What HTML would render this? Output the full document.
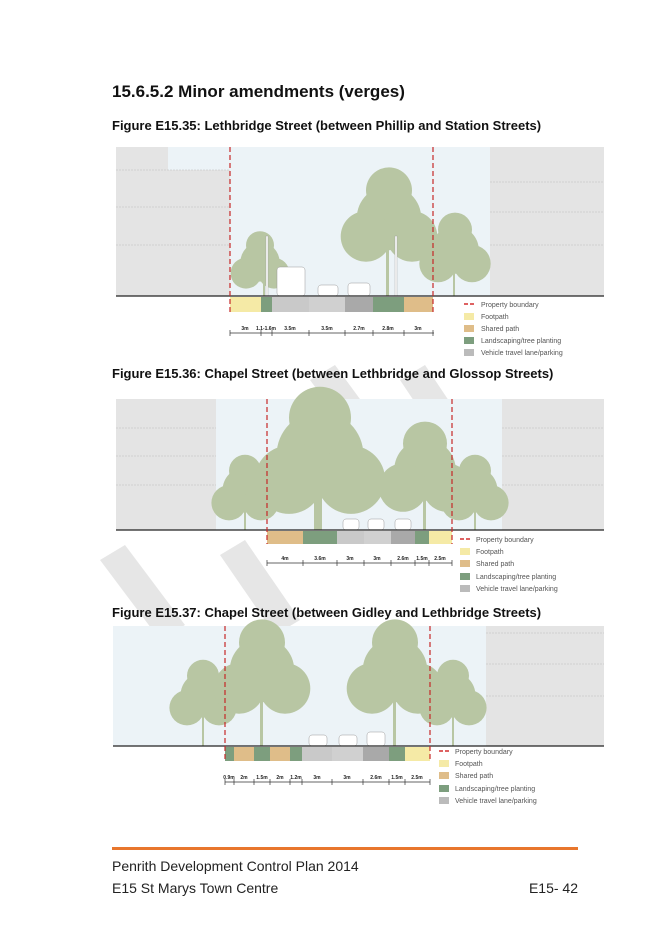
<!DOCTYPE html>
<html><head><meta charset="utf-8"><style>
body{margin:0;background:#fff}
svg text{font-family:"Liberation Sans",sans-serif}
</style></head><body>
<svg width="656" height="928" viewBox="0 0 656 928" xmlns="http://www.w3.org/2000/svg">
<defs>
<g id="tree"><circle cx="0" cy="0" r="14" fill="#b8c6a3"/><circle cx="-10" cy="8" r="11" fill="#b8c6a3"/><circle cx="10" cy="8" r="11" fill="#b8c6a3"/><circle cx="0" cy="-12" r="10" fill="#b8c6a3"/></g>
</defs>
<!-- watermark -->
<g fill="#e6e6e6">
<polygon points="100,560 125,545 185,625 160,640"/><polygon points="220,555 245,540 300,620 275,635"/>
<polygon points="310,380 335,365 390,440 365,455"/><polygon points="400,380 425,365 475,440 450,455"/>
</g>
<text x="112" y="97" font-size="17" font-weight="bold" fill="#111">15.6.5.2 Minor amendments (verges)</text>

<!-- FIGURE 1 -->
<text x="112" y="130" font-size="13" font-weight="bold" fill="#111">Figure E15.35: Lethbridge Street (between Phillip and Station Streets)</text>
<rect x="116" y="147" width="488" height="149" fill="#ecf3f7"/>
<path d="M116 147H168V170H230V296H116Z" fill="#e4e4e4"/>
<rect x="490" y="147" width="114" height="149" fill="#e4e4e4"/>
<g stroke="#bbb" stroke-dasharray="2,1" stroke-width="0.6"><line x1="116" y1="170" x2="230" y2="170"/><line x1="116" y1="207" x2="230" y2="207"/><line x1="116" y1="245" x2="230" y2="245"/><line x1="490" y1="182" x2="604" y2="182"/><line x1="490" y1="212" x2="604" y2="212"/><line x1="490" y1="245" x2="604" y2="245"/></g>
<g transform="translate(260,262) scale(1.4)"><use href="#tree"/></g><rect x="263" y="270" width="2" height="26" fill="#b8c6a3"/>
<g transform="translate(389,218) scale(2.3)"><use href="#tree"/></g><rect x="386" y="240" width="3" height="56" fill="#b8c6a3"/>
<g transform="translate(455,250) scale(1.7)"><use href="#tree"/></g><rect x="453" y="265" width="2" height="31" fill="#b8c6a3"/>
<rect x="266" y="236" width="2" height="60" fill="#fff" stroke="#999" stroke-width="0.4"/>
<rect x="395" y="236" width="2" height="60" fill="#fff" stroke="#999" stroke-width="0.4"/>
<rect x="277" y="267" width="28" height="29" rx="3" fill="#fff" stroke="#999" stroke-width="0.5"/>
<rect x="318" y="285" width="20" height="11" rx="3" fill="#fff" stroke="#999" stroke-width="0.5"/>
<rect x="348" y="283" width="22" height="13" rx="3" fill="#fff" stroke="#999" stroke-width="0.5"/>
<line x1="116" y1="296" x2="604" y2="296" stroke="#222" stroke-width="1.2"/>
<rect x="230" y="297" width="31" height="15" fill="#f5eaa6"/><rect x="261" y="297" width="11" height="15" fill="#7d9e7e"/>
<rect x="272" y="297" width="37" height="15" fill="#c9c9c9"/><rect x="309" y="297" width="36" height="15" fill="#d0d0d0"/>
<rect x="345" y="297" width="28" height="15" fill="#a9a9a9"/><rect x="373" y="297" width="31" height="15" fill="#7d9e7e"/><rect x="404" y="297" width="29" height="15" fill="#dfbd89"/>
<g stroke="#c62828" stroke-width="1.2" stroke-dasharray="5,3"><line x1="230" y1="147" x2="230" y2="312"/><line x1="433" y1="147" x2="433" y2="312"/></g>
<line x1="230" y1="333" x2="434" y2="333" stroke="#333" stroke-width="0.7"/>
<g stroke="#333" stroke-width="0.7"><line x1="230" y1="330" x2="230" y2="336"/><line x1="261" y1="330" x2="261" y2="336"/><line x1="272" y1="330" x2="272" y2="336"/><line x1="309" y1="330" x2="309" y2="336"/><line x1="345" y1="330" x2="345" y2="336"/><line x1="373" y1="330" x2="373" y2="336"/><line x1="404" y1="330" x2="404" y2="336"/><line x1="433" y1="330" x2="433" y2="336"/></g>
<g font-size="5" font-weight="bold" fill="#222" text-anchor="middle"><text x="245" y="330">3m</text><text x="266" y="330">1.1-1.6m</text><text x="290" y="330">3.5m</text><text x="327" y="330">3.5m</text><text x="359" y="330">2.7m</text><text x="388" y="330">2.8m</text><text x="418" y="330">3m</text></g>
<g font-size="7" fill="#555">
<line x1="464" y1="304" x2="476" y2="304" stroke="#d32f2f" stroke-width="1.5" stroke-dasharray="4,2"/><text x="481" y="307">Property boundary</text>
<rect x="464" y="313" width="10" height="7" fill="#f5eaa6"/><text x="481" y="319">Footpath</text>
<rect x="464" y="325" width="10" height="7" fill="#dfbd89"/><text x="481" y="331">Shared path</text>
<rect x="464" y="337" width="10" height="7" fill="#7d9e7e"/><text x="481" y="343">Landscaping/tree planting</text>
<rect x="464" y="349" width="10" height="7" fill="#bbb"/><text x="481" y="355">Vehicle travel lane/parking</text></g>

<!-- FIGURE 2 -->
<text x="112" y="378" font-size="13" font-weight="bold" fill="#111">Figure E15.36: Chapel Street (between Lethbridge and Glossop Streets)</text>
<rect x="116" y="399" width="488" height="131" fill="#ecf3f7"/>
<rect x="116" y="399" width="100" height="131" fill="#e4e4e4"/><rect x="502" y="399" width="102" height="131" fill="#e4e4e4"/>
<g stroke="#bbb" stroke-dasharray="2,1" stroke-width="0.6"><line x1="116" y1="428" x2="216" y2="428"/><line x1="116" y1="456" x2="216" y2="456"/><line x1="116" y1="485" x2="216" y2="485"/><line x1="502" y1="428" x2="604" y2="428"/><line x1="502" y1="456" x2="604" y2="456"/><line x1="502" y1="485" x2="604" y2="485"/></g>
<g transform="translate(245,490) scale(1.6)"><use href="#tree"/></g><rect x="244" y="500" width="2" height="30" fill="#b8c6a3"/>
<g transform="translate(320,455) scale(3.1)"><use href="#tree"/></g><rect x="314" y="470" width="8" height="60" fill="#b8c6a3"/>
<g transform="translate(425,470) scale(2.2)"><use href="#tree"/></g><rect x="423" y="490" width="3" height="40" fill="#b8c6a3"/>
<g transform="translate(475,490) scale(1.6)"><use href="#tree"/></g><rect x="474" y="500" width="2" height="30" fill="#b8c6a3"/>
<rect x="343" y="519" width="16" height="11" rx="3" fill="#fff" stroke="#999" stroke-width="0.5"/><rect x="368" y="519" width="16" height="11" rx="3" fill="#fff" stroke="#999" stroke-width="0.5"/><rect x="395" y="519" width="16" height="11" rx="3" fill="#fff" stroke="#999" stroke-width="0.5"/>
<line x1="116" y1="530" x2="604" y2="530" stroke="#222" stroke-width="1.2"/>
<rect x="267" y="531" width="36" height="13" fill="#dfbd89"/><rect x="303" y="531" width="34" height="13" fill="#7d9e7e"/><rect x="337" y="531" width="27" height="13" fill="#c9c9c9"/><rect x="364" y="531" width="27" height="13" fill="#d0d0d0"/><rect x="391" y="531" width="24" height="13" fill="#a9a9a9"/><rect x="415" y="531" width="14" height="13" fill="#7d9e7e"/><rect x="429" y="531" width="23" height="13" fill="#f5eaa6"/>
<g stroke="#c62828" stroke-width="1.2" stroke-dasharray="5,3"><line x1="267" y1="399" x2="267" y2="544"/><line x1="452" y1="399" x2="452" y2="544"/></g>
<line x1="267" y1="563" x2="452" y2="563" stroke="#333" stroke-width="0.7"/>
<g stroke="#333" stroke-width="0.7"><line x1="267" y1="560" x2="267" y2="566"/><line x1="303" y1="560" x2="303" y2="566"/><line x1="337" y1="560" x2="337" y2="566"/><line x1="364" y1="560" x2="364" y2="566"/><line x1="391" y1="560" x2="391" y2="566"/><line x1="415" y1="560" x2="415" y2="566"/><line x1="429" y1="560" x2="429" y2="566"/><line x1="452" y1="560" x2="452" y2="566"/></g>
<g font-size="5" font-weight="bold" fill="#222" text-anchor="middle"><text x="285" y="560">4m</text><text x="320" y="560">3.6m</text><text x="350" y="560">3m</text><text x="377" y="560">3m</text><text x="403" y="560">2.6m</text><text x="422" y="560">1.5m</text><text x="440" y="560">2.5m</text></g>
<g font-size="7" fill="#555">
<line x1="460" y1="539" x2="472" y2="539" stroke="#d32f2f" stroke-width="1.5" stroke-dasharray="4,2"/><text x="476" y="542">Property boundary</text>
<rect x="460" y="548" width="10" height="7" fill="#f5eaa6"/><text x="476" y="554">Footpath</text>
<rect x="460" y="560" width="10" height="7" fill="#dfbd89"/><text x="476" y="566">Shared path</text>
<rect x="460" y="573" width="10" height="7" fill="#7d9e7e"/><text x="476" y="579">Landscaping/tree planting</text>
<rect x="460" y="585" width="10" height="7" fill="#bbb"/><text x="476" y="591">Vehicle travel lane/parking</text></g>

<!-- FIGURE 3 -->
<text x="112" y="617" font-size="13" font-weight="bold" fill="#111">Figure E15.37: Chapel Street (between Gidley and Lethbridge Streets)</text>
<rect x="113" y="626" width="491" height="120" fill="#ecf3f7"/>
<rect x="486" y="626" width="118" height="120" fill="#e4e4e4"/>
<g stroke="#bbb" stroke-dasharray="2,1" stroke-width="0.6"><line x1="486" y1="633" x2="604" y2="633"/><line x1="486" y1="664" x2="604" y2="664"/><line x1="486" y1="696" x2="604" y2="696"/></g>
<g transform="translate(203,695) scale(1.6)"><use href="#tree"/></g><rect x="202" y="705" width="2" height="41" fill="#b8c6a3"/>
<g transform="translate(262,670) scale(2.3)"><use href="#tree"/></g><rect x="260" y="690" width="3" height="56" fill="#b8c6a3"/>
<g transform="translate(395,670) scale(2.3)"><use href="#tree"/></g><rect x="393" y="690" width="3" height="56" fill="#b8c6a3"/>
<g transform="translate(453,695) scale(1.6)"><use href="#tree"/></g><rect x="452" y="705" width="2" height="41" fill="#b8c6a3"/>
<rect x="309" y="735" width="18" height="11" rx="3" fill="#fff" stroke="#999" stroke-width="0.5"/><rect x="339" y="735" width="18" height="11" rx="3" fill="#fff" stroke="#999" stroke-width="0.5"/><rect x="367" y="732" width="18" height="14" rx="3" fill="#fff" stroke="#999" stroke-width="0.5"/>
<line x1="113" y1="746" x2="604" y2="746" stroke="#222" stroke-width="1.2"/>
<rect x="225" y="747" width="9" height="14" fill="#7d9e7e"/><rect x="234" y="747" width="20" height="14" fill="#dfbd89"/><rect x="254" y="747" width="16" height="14" fill="#7d9e7e"/><rect x="270" y="747" width="20" height="14" fill="#dfbd89"/><rect x="290" y="747" width="12" height="14" fill="#7d9e7e"/><rect x="302" y="747" width="30" height="14" fill="#c9c9c9"/><rect x="332" y="747" width="31" height="14" fill="#d0d0d0"/><rect x="363" y="747" width="26" height="14" fill="#a9a9a9"/><rect x="389" y="747" width="16" height="14" fill="#7d9e7e"/><rect x="405" y="747" width="25" height="14" fill="#f5eaa6"/>
<g stroke="#c62828" stroke-width="1.2" stroke-dasharray="5,3"><line x1="225" y1="626" x2="225" y2="761"/><line x1="430" y1="626" x2="430" y2="761"/></g>
<line x1="225" y1="782" x2="430" y2="782" stroke="#333" stroke-width="0.7"/>
<g stroke="#333" stroke-width="0.7"><line x1="225" y1="779" x2="225" y2="785"/><line x1="234" y1="779" x2="234" y2="785"/><line x1="254" y1="779" x2="254" y2="785"/><line x1="270" y1="779" x2="270" y2="785"/><line x1="290" y1="779" x2="290" y2="785"/><line x1="302" y1="779" x2="302" y2="785"/><line x1="332" y1="779" x2="332" y2="785"/><line x1="363" y1="779" x2="363" y2="785"/><line x1="389" y1="779" x2="389" y2="785"/><line x1="405" y1="779" x2="405" y2="785"/><line x1="430" y1="779" x2="430" y2="785"/></g>
<g font-size="5" font-weight="bold" fill="#222" text-anchor="middle"><text x="229" y="779">0.9m</text><text x="244" y="779">2m</text><text x="262" y="779">1.5m</text><text x="280" y="779">2m</text><text x="296" y="779">1.2m</text><text x="317" y="779">3m</text><text x="347" y="779">3m</text><text x="376" y="779">2.6m</text><text x="397" y="779">1.5m</text><text x="417" y="779">2.5m</text></g>
<g font-size="7" fill="#555">
<line x1="439" y1="751" x2="451" y2="751" stroke="#d32f2f" stroke-width="1.5" stroke-dasharray="4,2"/><text x="455" y="754">Property boundary</text>
<rect x="439" y="760" width="10" height="7" fill="#f5eaa6"/><text x="455" y="766">Footpath</text>
<rect x="439" y="772" width="10" height="7" fill="#dfbd89"/><text x="455" y="778">Shared path</text>
<rect x="439" y="785" width="10" height="7" fill="#7d9e7e"/><text x="455" y="791">Landscaping/tree planting</text>
<rect x="439" y="797" width="10" height="7" fill="#bbb"/><text x="455" y="803">Vehicle travel lane/parking</text></g>

<!-- FOOTER -->
<rect x="112" y="847" width="466" height="3" fill="#e8762d"/>
<text x="112" y="871" font-size="14" fill="#222">Penrith Development Control Plan 2014</text>
<text x="112" y="893" font-size="14" fill="#222">E15 St Marys Town Centre</text>
<text x="578" y="893" font-size="14" fill="#222" text-anchor="end">E15- 42</text>
</svg>
</body></html>
